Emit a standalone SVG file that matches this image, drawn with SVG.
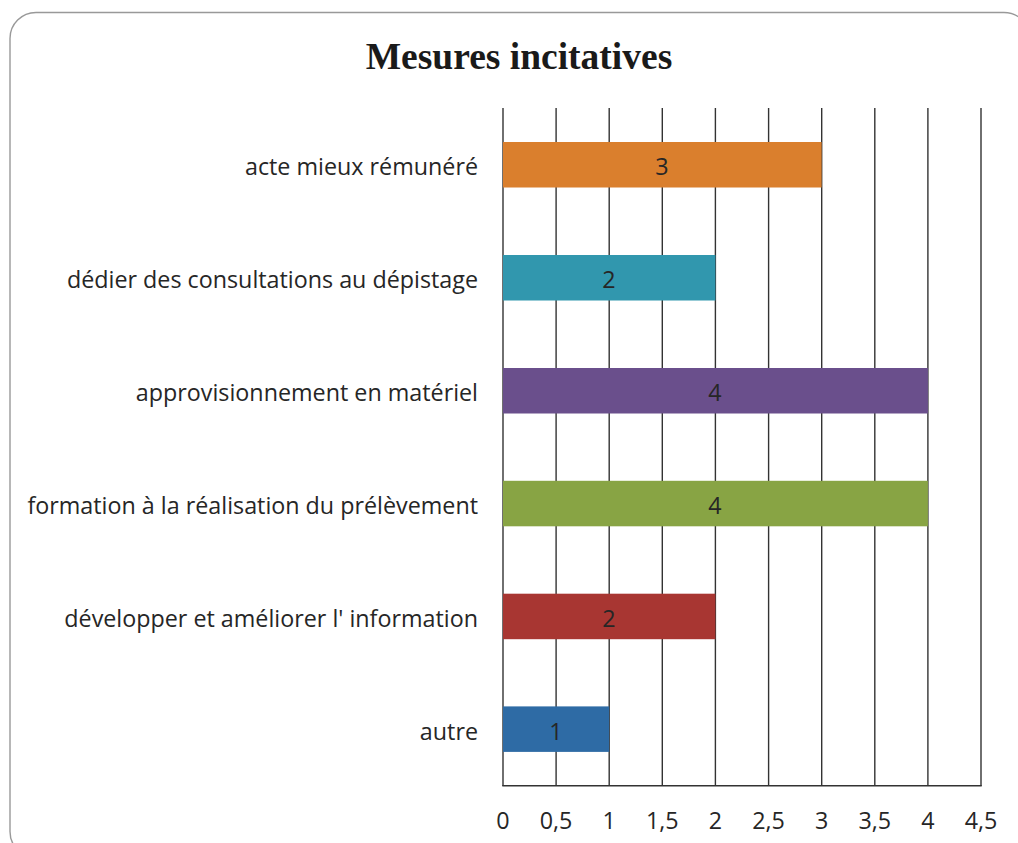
<svg xmlns="http://www.w3.org/2000/svg" width="1018" height="843" viewBox="0 0 1018 843">
<style>
.lbl{font-family:"Open Sans","Liberation Sans",sans-serif;font-size:23.3px;fill:#262626}
.cat{text-anchor:end}
.val{text-anchor:middle}
.tick{text-anchor:middle}
.grid{stroke:#333;stroke-width:1.4}
.title{font-family:"Liberation Serif","Times New Roman",serif;font-size:37.5px;font-weight:bold;fill:#1a1a1a;text-anchor:middle}
</style>
<rect x="0" y="0" width="1018" height="843" fill="#fff"/>
<rect x="10" y="12.5" width="1020" height="845" rx="26" ry="26" fill="#fff" stroke="#999" stroke-width="1.4"/>
<text class="title" x="519" y="68.5">Mesures incitatives</text>
<g id="gridlines">
<line class="grid" x1="503" y1="108" x2="503" y2="786"/>
<line class="grid" x1="556.1" y1="108" x2="556.1" y2="786"/>
<line class="grid" x1="609.2" y1="108" x2="609.2" y2="786"/>
<line class="grid" x1="662.3" y1="108" x2="662.3" y2="786"/>
<line class="grid" x1="715.4" y1="108" x2="715.4" y2="786"/>
<line class="grid" x1="768.6" y1="108" x2="768.6" y2="786"/>
<line class="grid" x1="821.7" y1="108" x2="821.7" y2="786"/>
<line class="grid" x1="874.8" y1="108" x2="874.8" y2="786"/>
<line class="grid" x1="927.9" y1="108" x2="927.9" y2="786"/>
<line class="grid" x1="981" y1="108" x2="981" y2="786"/>
<line class="grid" x1="502.3" y1="785.7" x2="981.7" y2="785.7"/>
</g>
<g id="bar-acte">
<rect x="503" y="142" width="318.6" height="45.5" fill="#DA7F2D"/>
<text class="lbl cat" x="478" y="175">acte mieux rémunéré</text>
<text class="lbl val" x="662" y="175">3</text>
</g>
<g id="bar-dedier">
<rect x="503" y="255" width="212.4" height="45.5" fill="#3197AE"/>
<text class="lbl cat" x="478" y="288">dédier des consultations au dépistage</text>
<text class="lbl val" x="609" y="288">2</text>
</g>
<g id="bar-approvisionnement">
<rect x="503" y="368" width="424.9" height="45.5" fill="#6A4F8C"/>
<text class="lbl cat" x="478" y="401">approvisionnement en matériel</text>
<text class="lbl val" x="715" y="401">4</text>
</g>
<g id="bar-formation">
<rect x="503" y="480.8" width="424.9" height="45.5" fill="#88A444"/>
<text class="lbl cat" x="478" y="513.8">formation à la réalisation du prélèvement</text>
<text class="lbl val" x="715" y="513.8">4</text>
</g>
<g id="bar-developper">
<rect x="503" y="593.7" width="212.4" height="45.5" fill="#A83632"/>
<text class="lbl cat" x="478" y="626.7">développer et améliorer l' information</text>
<text class="lbl val" x="609" y="626.7">2</text>
</g>
<g id="bar-autre">
<rect x="503" y="706.4" width="106.2" height="45.5" fill="#2E6BA5"/>
<text class="lbl cat" x="478" y="739.5">autre</text>
<text class="lbl val" x="556" y="739.5">1</text>
</g>
<g id="axis-labels">
<text class="lbl tick" x="503" y="829">0</text>
<text class="lbl tick" x="556.1" y="829">0,5</text>
<text class="lbl tick" x="609.2" y="829">1</text>
<text class="lbl tick" x="662.3" y="829">1,5</text>
<text class="lbl tick" x="715.4" y="829">2</text>
<text class="lbl tick" x="768.6" y="829">2,5</text>
<text class="lbl tick" x="821.7" y="829">3</text>
<text class="lbl tick" x="874.8" y="829">3,5</text>
<text class="lbl tick" x="927.9" y="829">4</text>
<text class="lbl tick" x="981" y="829">4,5</text>
</g>
</svg>
